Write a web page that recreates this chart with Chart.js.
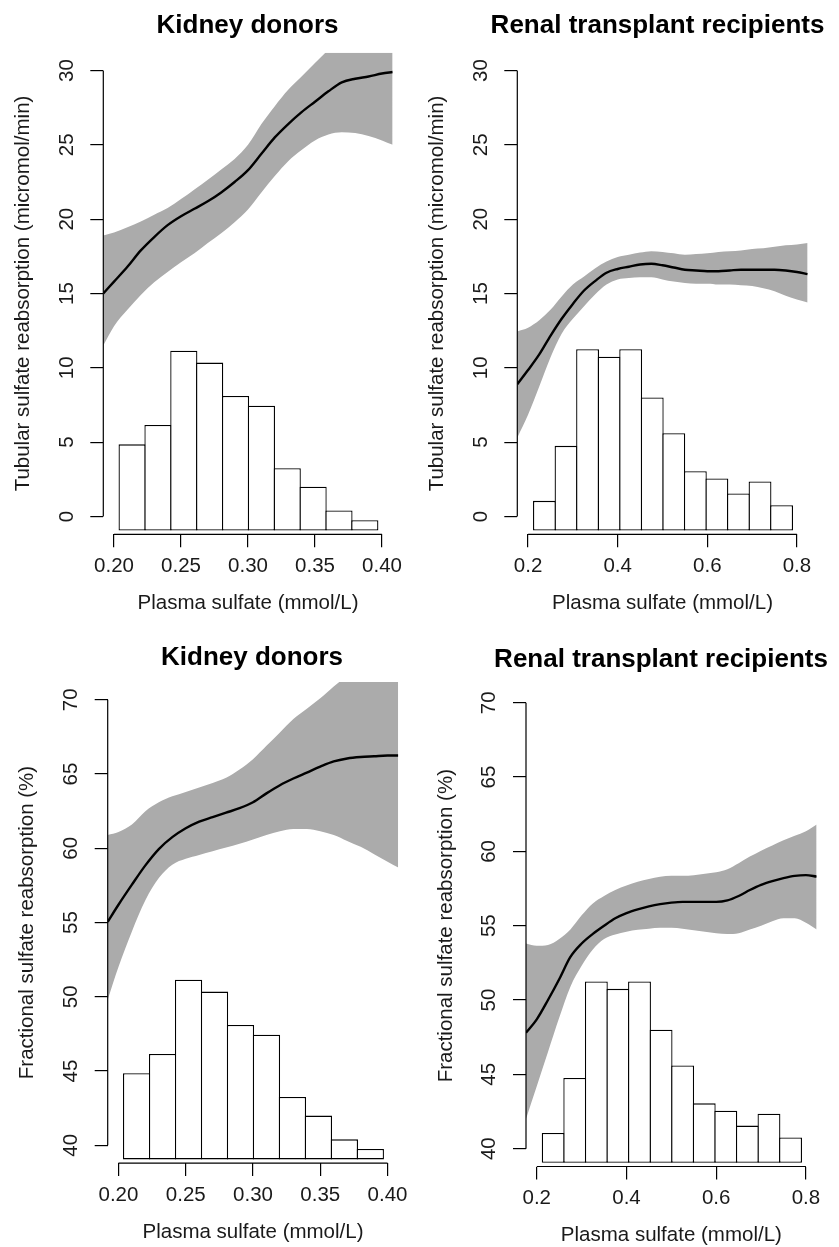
<!doctype html>
<html lang="en">
<head>
<meta charset="utf-8">
<script src="https://cdn.jsdelivr.net/npm/chart.js"></script>
<style>
  html, body { margin: 0; padding: 0; background: #fff; }
  body { width: 839px; height: 1247px; overflow: hidden; position: relative; }
  .panel { position: absolute; }
</style>
</head>
<body>
<div class="panel" id="p0"><canvas id="c0"></canvas></div>
<div class="panel" id="p1"><canvas id="c1"></canvas></div>
<div class="panel" id="p2"><canvas id="c2"></canvas></div>
<div class="panel" id="p3"><canvas id="c3"></canvas></div>

<script>
/* ---------- data ---------- */
// kidney donors: plasma sulfate grid
var donorX = [0.192, 0.20, 0.21, 0.22, 0.23, 0.24, 0.25, 0.26, 0.27, 0.28, 0.29, 0.30,
              0.31, 0.32, 0.33, 0.34, 0.35, 0.36, 0.37, 0.38, 0.39, 0.40, 0.408];
var donorTubFit   = [15.0, 15.8, 16.8, 17.9, 18.8, 19.6, 20.2, 20.7, 21.2, 21.8, 22.5, 23.3,
                     24.4, 25.5, 26.4, 27.2, 27.9, 28.6, 29.2, 29.45, 29.6, 29.8, 29.9];
var donorTubUpper = [18.9, 19.1, 19.45, 19.85, 20.3, 20.75, 21.35, 22.0, 22.65, 23.35, 24.05, 25.0,
                     26.4, 27.6, 28.7, 29.6, 30.5, 31.4, 32.3, 33.1, 33.8, 34.4, 34.8];
var donorTubLower = [11.5, 12.8, 13.9, 14.9, 15.75, 16.45, 17.1, 17.7, 18.4, 19.05, 19.8, 20.65,
                     21.8, 22.9, 23.9, 24.65, 25.3, 25.7, 25.85, 25.8, 25.6, 25.3, 25.0];
var donorFracFit   = [55.05, 56.2, 57.55, 58.85, 59.95, 60.75, 61.35, 61.8, 62.1, 62.4, 62.7, 63.1,
                      63.7, 64.25, 64.7, 65.1, 65.5, 65.85, 66.05, 66.15, 66.2, 66.25, 66.25];
var donorFracUpper = [60.9, 61.1, 61.6, 62.5, 63.1, 63.5, 63.8, 64.1, 64.4, 64.75, 65.3, 66.0,
                      66.9, 67.8, 68.7, 69.4, 70.1, 70.9, 71.6, 72.2, 72.8, 73.3, 73.6];
var donorFracLower = [49.8, 52.0, 54.4, 56.5, 58.0, 58.9, 59.3, 59.55, 59.8, 60.05, 60.3, 60.6,
                      60.9, 61.15, 61.3, 61.3, 61.15, 60.9, 60.5, 60.1, 59.6, 59.1, 58.7];
var donorBins = [0.2135, 0.2328, 0.2521, 0.2714, 0.2907, 0.3100, 0.3293, 0.3486, 0.3679, 0.3872];
var donorHist = [5.8, 7.1, 12.1, 11.3, 9.05, 8.4, 4.2, 2.95, 1.35, 0.7];

// renal transplant recipients
var recipX = [0.176, 0.20, 0.225, 0.25, 0.275, 0.30, 0.325, 0.35, 0.375, 0.40, 0.425, 0.45, 0.475,
              0.50, 0.525, 0.55, 0.575, 0.60, 0.625, 0.65, 0.675, 0.70, 0.725, 0.75, 0.775, 0.80, 0.824];
var recipTubFit   = [8.9, 9.85, 10.9, 12.15, 13.3, 14.3, 15.2, 15.85, 16.4, 16.65, 16.8, 16.95, 17.0,
                     16.9, 16.75, 16.6, 16.55, 16.5, 16.5, 16.55, 16.6, 16.6, 16.6, 16.6, 16.55, 16.45, 16.3];
var recipTubUpper = [12.45, 12.7, 13.2, 13.9, 14.8, 15.6, 16.15, 16.7, 17.15, 17.45, 17.6, 17.75, 17.85,
                     17.8, 17.7, 17.6, 17.65, 17.7, 17.8, 17.85, 17.9, 18.0, 18.05, 18.15, 18.25, 18.3, 18.4];
var recipTubLower = [5.3, 6.85, 8.75, 10.7, 12.3, 13.3, 14.15, 14.95, 15.6, 15.95, 16.05, 16.1, 16.1,
                     15.95, 15.8, 15.7, 15.65, 15.65, 15.6, 15.6, 15.55, 15.5, 15.35, 15.15, 14.85, 14.6, 14.4];
var recipFracFit   = [47.8, 48.7, 50.0, 51.4, 52.9, 53.8, 54.45, 55.0, 55.5, 55.85, 56.1, 56.3, 56.45,
                      56.55, 56.6, 56.6, 56.6, 56.6, 56.7, 57.0, 57.4, 57.75, 58.0, 58.2, 58.35, 58.4, 58.3];
var recipFracUpper = [53.8, 53.65, 53.7, 54.1, 54.75, 55.7, 56.5, 57.0, 57.4, 57.7, 57.96, 58.15, 58.3,
                      58.36, 58.36, 58.4, 58.5, 58.6, 58.8, 59.2, 59.65, 60.05, 60.4, 60.75, 61.05, 61.35, 61.8];
var recipFracLower = [42.0, 44.2, 46.5, 48.8, 50.9, 52.3, 53.4, 54.1, 54.4, 54.6, 54.73, 54.8, 54.86,
                      54.86, 54.8, 54.7, 54.6, 54.5, 54.45, 54.5, 54.75, 55.0, 55.3, 55.5, 55.5, 55.2, 54.75];
var recipBins = [0.2366, 0.2847, 0.3328, 0.3809, 0.4290, 0.4771, 0.5252, 0.5733, 0.6214, 0.6695, 0.7176, 0.7657];
var recipHist = [2.0, 5.7, 12.2, 11.7, 12.2, 8.95, 6.55, 4.0, 3.5, 2.5, 3.3, 1.7];

// axes
var donorXTicks  = [0.20, 0.25, 0.30, 0.35, 0.40];
var donorXLabels = ['0.20', '0.25', '0.30', '0.35', '0.40'];
var recipXTicks  = [0.2, 0.4, 0.6, 0.8];
var recipXLabels = ['0.2', '0.4', '0.6', '0.8'];
var tubYTicks    = [0, 5, 10, 15, 20, 25, 30];
var fracYTicks   = [40, 45, 50, 55, 60, 65, 70];

var FONT = "'Liberation Sans', Arial, Helvetica, sans-serif";
var BAR_BW = 1.3;

/* ---------- R-style axis lines (only between first and last tick) ---------- */
var rAxes = {
  id: 'rAxes',
  afterDraw: function(chart) {
    var ctx = chart.ctx, a = chart.chartArea;
    var sx = chart.scales.x, sy = chart.scales.y;
    ctx.save();
    ctx.strokeStyle = '#000';
    ctx.lineWidth = 1.2;
    ctx.beginPath();
    ctx.moveTo(sx.getPixelForValue(sx.ticks[0].value), a.bottom);
    ctx.lineTo(sx.getPixelForValue(sx.ticks[sx.ticks.length - 1].value), a.bottom);
    ctx.moveTo(a.left, sy.getPixelForValue(sy.ticks[0].value));
    ctx.lineTo(a.left, sy.getPixelForValue(sy.ticks[sy.ticks.length - 1].value));
    ctx.stroke();
    ctx.restore();
  }
};

function pts(xs, ys) {
  return xs.map(function(x, i) { return {x: x, y: ys[i]}; });
}

/* lay: page position of the plot region (L,T,R,B), quadrant origin, title centre (titleX, titleY) */
function makePanel(id, lay, cfg) {
  var yW = lay.L - lay.qx;
  var cw = 2 * (lay.titleX - lay.qx);        // canvas centred on the title
  var spacerW = cw - yW - (lay.R - lay.L);   // empty right box fills the rest
  var ch = 660;
  var box = document.getElementById('p' + id);
  box.style.left = lay.qx + 'px';
  box.style.top = lay.qy + 'px';
  box.style.width = cw + 'px';
  box.style.height = ch + 'px';

  var xH = lay.qy + ch - lay.B;
  var titleLH = 26 * 1.2;
  var titlePadTop = lay.titleY - lay.qy - titleLH / 2;
  var titlePadBottom = (lay.T - lay.qy) - titleLH - titlePadTop;
  var axLH = 20.5 * 1.2;
  var pxPerUnit = (lay.R - lay.L) / (cfg.xmax - cfg.xmin);
  var binPx = (cfg.bins[1] - cfg.bins[0]) * pxPerUnit;

  new Chart(document.getElementById('c' + id), {
    type: 'line',
    data: {
      datasets: [{
        label: 'fit',
        data: pts(cfg.xs, cfg.fit),
        borderColor: '#000',
        borderWidth: 2.4,
        pointRadius: 0,
        fill: false,
        cubicInterpolationMode: 'monotone'
      }, {
        type: 'bar',
        label: 'histogram',
        yAxisID: 'yh',
        data: pts(cfg.bins, cfg.hist),
        backgroundColor: '#fff',
        borderColor: '#000',
        borderWidth: BAR_BW,
        borderSkipped: false,
        categoryPercentage: 1,
        barPercentage: 1 + BAR_BW / binPx
      }, {
        label: 'upper',
        data: pts(cfg.xs, cfg.upper),
        borderWidth: 0,
        pointRadius: 0,
        backgroundColor: '#ababab',
        fill: '+1',
        cubicInterpolationMode: 'monotone'
      }, {
        label: 'lower',
        data: pts(cfg.xs, cfg.lower),
        borderWidth: 0,
        pointRadius: 0,
        fill: false,
        cubicInterpolationMode: 'monotone'
      }]
    },
    options: {
      responsive: true,
      maintainAspectRatio: false,
      animation: false,
      events: [],
      layout: { autoPadding: false, padding: 0 },
      plugins: {
        legend: { display: false },
        tooltip: { enabled: false },
        title: {
          display: true,
          text: cfg.title,
          color: '#000',
          font: { family: FONT, size: 26, weight: 'bold' },
          padding: { top: titlePadTop, bottom: titlePadBottom }
        }
      },
      scales: {
        x: {
          type: 'linear',
          min: cfg.xmin, max: cfg.xmax,
          offset: false,
          afterBuildTicks: function(s) { s.ticks = cfg.xTicks.map(function(v) { return {value: v}; }); },
          afterFit: function(s) { s.height = xH; },
          border: { display: false },
          grid: { offset: false, drawOnChartArea: false, drawTicks: true, tickLength: 13, color: '#000', lineWidth: 1.2 },
          ticks: {
            autoSkip: false, maxRotation: 0, padding: 7, color: '#1a1a1a',
            font: { family: FONT, size: 20.5 },
            callback: function(v, i) { return cfg.xLabels[i]; }
          },
          title: {
            display: true, text: 'Plasma sulfate (mmol/L)', color: '#1a1a1a',
            font: { family: FONT, size: 20.5 },
            padding: { top: 0, bottom: (lay.qy + ch) - (lay.B + 69) - axLH / 2 }
          }
        },
        y: {
          type: 'linear', position: 'left',
          min: cfg.ymin, max: cfg.ymax,
          afterBuildTicks: function(s) { s.ticks = cfg.yTicks.map(function(v) { return {value: v}; }); },
          afterFit: function(s) { s.width = yW; },
          border: { display: false },
          grid: { offset: false, drawOnChartArea: false, drawTicks: true, tickLength: 13, color: '#000', lineWidth: 1.2 },
          ticks: {
            autoSkip: false, minRotation: 90, maxRotation: 90, crossAlign: 'center', padding: 12,
            color: '#1a1a1a', font: { family: FONT, size: 20.5 },
            callback: function(v) { return String(v); }
          },
          title: {
            display: true, text: cfg.yTitle, color: '#1a1a1a',
            font: { family: FONT, size: 20.5 },
            padding: { top: yW - 80 - axLH / 2, bottom: 0 }
          }
        },
        yh: { type: 'linear', display: false, min: -0.25, max: 32.15 },
        spacer: {
          type: 'linear', position: 'right', min: 0, max: 1,
          afterFit: function(s) { s.width = spacerW; },
          border: { display: false },
          grid: { display: false },
          ticks: { display: false },
          title: { display: false }
        }
      }
    },
    plugins: [rAxes]
  });
}

var tubTitle = 'Tubular sulfate reabsorption (micromol/min)';
var fracTitle = 'Fractional sulfate reabsorption (%)';

makePanel(0, { qx: 0, qy: 0, L: 103.3, T: 52.7, R: 392.7, B: 534.3, titleX: 247.5, titleY: 25.5 }, {
  title: 'Kidney donors', yTitle: tubTitle,
  xs: donorX, fit: donorTubFit, upper: donorTubUpper, lower: donorTubLower,
  bins: donorBins, hist: donorHist,
  xmin: 0.192, xmax: 0.408, ymin: -1.2, ymax: 31.2,
  xTicks: donorXTicks, xLabels: donorXLabels, yTicks: tubYTicks
});
makePanel(1, { qx: 420, qy: 0, L: 517.3, T: 52.7, R: 807.7, B: 534.3, titleX: 657.5, titleY: 25.5 }, {
  title: 'Renal transplant recipients', yTitle: tubTitle,
  xs: recipX, fit: recipTubFit, upper: recipTubUpper, lower: recipTubLower,
  bins: recipBins, hist: recipHist,
  xmin: 0.176, xmax: 0.824, ymin: -1.2, ymax: 31.2,
  xTicks: recipXTicks, xLabels: recipXLabels, yTicks: tubYTicks
});
makePanel(2, { qx: 0, qy: 620, L: 107.7, T: 682, R: 398.3, B: 1163.1, titleX: 252, titleY: 658 }, {
  title: 'Kidney donors', yTitle: fracTitle,
  xs: donorX, fit: donorFracFit, upper: donorFracUpper, lower: donorFracLower,
  bins: donorBins, hist: donorHist,
  xmin: 0.192, xmax: 0.408, ymin: 38.8, ymax: 71.2,
  xTicks: donorXTicks, xLabels: donorXLabels, yTicks: fracYTicks
});
makePanel(3, { qx: 420, qy: 620, L: 526, T: 684.9, R: 816.7, B: 1166.5, titleX: 661, titleY: 660 }, {
  title: 'Renal transplant recipients', yTitle: fracTitle,
  xs: recipX, fit: recipFracFit, upper: recipFracUpper, lower: recipFracLower,
  bins: recipBins, hist: recipHist,
  xmin: 0.176, xmax: 0.824, ymin: 38.8, ymax: 71.2,
  xTicks: recipXTicks, xLabels: recipXLabels, yTicks: fracYTicks
});
</script>
</body>
</html>
